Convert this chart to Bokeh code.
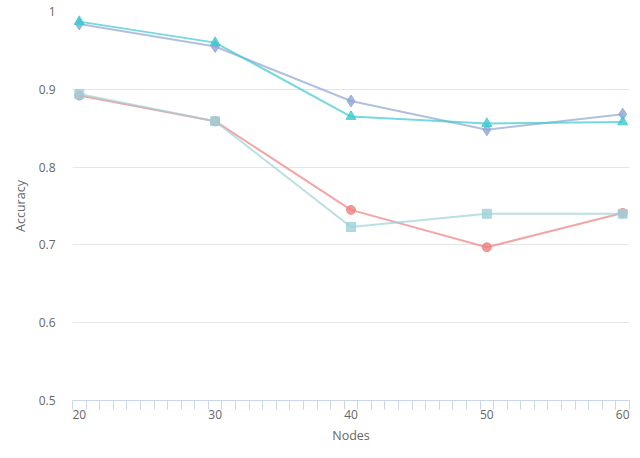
from bokeh.plotting import figure
from bokeh.models import FixedTicker, Range1d
from bokeh.embed import file_html
from bokeh.resources import INLINE

nodes = [20, 30, 40, 50, 60]
series_triangle = [0.987, 0.960, 0.865, 0.856, 0.858]
series_diamond = [0.984, 0.955, 0.885, 0.848, 0.868]
series_circle = [0.892, 0.859, 0.745, 0.697, 0.741]
series_square = [0.894, 0.859, 0.723, 0.740, 0.740]
x_ticks = [20, 30, 40, 50, 60]
y_ticks = [0.5, 0.6, 0.7, 0.8, 0.9, 1.0]

FONT = "Open Sans"
TXT = "#666666"

p = figure(width=632, height=450, output_backend="svg", toolbar_location=None,
           x_range=Range1d(19.5, 60.5), y_range=Range1d(0.5, 1.0),
           min_border_left=72, min_border_right=3, min_border_top=11, min_border_bottom=50)
p.outline_line_color = None
p.background_fill_color = "white"
p.border_fill_color = "white"

p.xgrid.grid_line_color = None
p.ygrid.grid_line_color = "#e6e6e6"
p.ygrid.grid_line_width = 1

# x axis
p.xaxis.ticker = FixedTicker(ticks=x_ticks, minor_ticks=[19.5 + i for i in range(42)])
p.xaxis.axis_line_color = "#ccd6eb"
p.xaxis.major_tick_line_color = None
p.xaxis.major_tick_out = 0
p.xaxis.minor_tick_line_color = "#ccd6eb"
p.xaxis.minor_tick_out = 9
p.xaxis.minor_tick_in = 0
p.xaxis.major_label_standoff = 0
p.xaxis.axis_label = "Nodes"
p.xaxis.axis_label_standoff = 5
p.xaxis.major_label_text_font = FONT
p.xaxis.major_label_text_font_size = "12px"
p.xaxis.major_label_text_color = TXT
p.xaxis.axis_label_text_font = FONT
p.xaxis.axis_label_text_font_size = "12.5px"
p.xaxis.axis_label_text_font_style = "normal"
p.xaxis.axis_label_text_color = TXT

# y axis
p.yaxis.ticker = FixedTicker(ticks=y_ticks)
p.yaxis.axis_line_color = None
p.yaxis.major_tick_line_color = None
p.yaxis.minor_tick_line_color = None
p.yaxis.major_tick_out = 0
p.yaxis.major_label_standoff = 17
p.yaxis.major_label_overrides = {1.0: "1", 0.5: "0.5"}
p.yaxis.axis_label = "Accuracy"
p.yaxis.axis_label_standoff = 7
p.yaxis.major_label_text_font = FONT
p.yaxis.major_label_text_font_size = "12px"
p.yaxis.major_label_text_color = TXT
p.yaxis.axis_label_text_font = FONT
p.yaxis.axis_label_text_font_size = "12.5px"
p.yaxis.axis_label_text_font_style = "normal"
p.yaxis.axis_label_text_color = TXT

specs = [
    (series_diamond, "#8fa5d3", "diamond", 12),
    (series_triangle, "#3cc9cf", "triangle", 10),
    (series_circle, "#ef7f7f", "circle", 9),
    (series_square, "#9cd1d9", "square", 9),
]
for vals, col, mk, sz in specs:
    p.line(nodes, vals, line_color=col, line_width=2, line_alpha=0.7)
    p.scatter(nodes, vals, marker=mk, size=sz, fill_color=col, line_color=col,
              fill_alpha=0.8, line_alpha=0.8)

open("out.html", "w").write(file_html(p, INLINE))
